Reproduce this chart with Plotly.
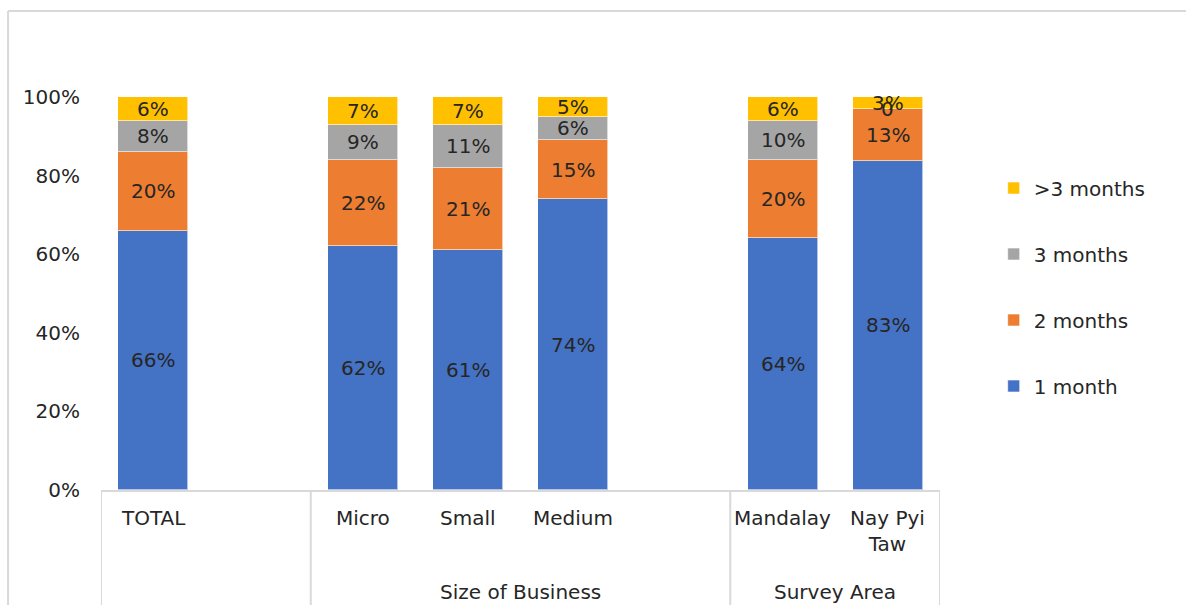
import plotly.graph_objects as go

# Category slots along the axis (blank slots separate the groups)
categories = ["TOTAL", "", "Micro", "Small", "Medium", "", "Mandalay", "Nay Pyi<br>Taw"]
groups = ["", "Size of Business", "Survey Area"]

series_names = ["1 month", "2 months", "3 months", ">3 months"]
one_month = [66, None, 62, 61, 74, None, 64, 83]
two_months = [20, None, 22, 21, 15, None, 20, 13]
three_months = [8, None, 9, 11, 6, None, 10, 0]
over_three = [6, None, 7, 7, 5, None, 6, 3]

colors = ["#4472C4", "#ED7D31", "#A5A5A5", "#FFC000"]
ytick_vals = [0, 20, 40, 60, 80, 100]
ytick_text = ["0%", "20%", "40%", "60%", "80%", "100%"]

FONT = "'DejaVu Sans', sans-serif"
TXT = "#262626"
LINE = "#D9D9D9"

series = [one_month, two_months, three_months, over_three]
xs = list(range(len(categories)))

fig = go.Figure()
n = len(series_names)
for k, (name, vals, col) in enumerate(zip(series_names, series, colors)):
    fig.add_trace(go.Bar(
        x=xs, y=vals, name=name, legendgroup=name, legendrank=n - k,
        marker=dict(color=col, line=dict(color="rgba(255,255,255,0.6)", width=1)),
        width=0.668, hoverinfo="skip",
    ))

# Data labels centred in each segment, placed on the normalised (100%) scale
annotations = []
for i in xs:
    vals = [s[i] for s in series]
    if vals[0] is None:
        continue
    total = sum(vals)
    base = 0.0
    for v in vals:
        share = 100.0 * v / total
        mid = base + share / 2
        base += share
        txt = "0" if v == 0 else f"{v}%"
        annotations.append(dict(
            x=i, y=mid, xref="x", yref="y", text=txt, showarrow=False,
            font=dict(family=FONT, size=20, color=TXT),
            xanchor="center", yanchor="middle",
        ))

# Category labels under the axis
for i, c in enumerate(categories):
    if not c:
        continue
    annotations.append(dict(
        x=i, y=-0.036, xref="x", yref="paper", text=c, showarrow=False,
        font=dict(family=FONT, size=20, color=TXT),
        xanchor="center", yanchor="top", align="center",
    ))
# Group labels
for gx, g in [(3.5, groups[1]), (6.5, groups[2])]:
    annotations.append(dict(
        x=gx, y=-0.223, xref="x", yref="paper", text=g, showarrow=False,
        font=dict(family=FONT, size=20, color=TXT),
        xanchor="center", yanchor="top",
    ))

shapes = []
# Group separators below the axis
for sx in [-0.5, 1.5, 5.5, 7.5]:
    shapes.append(dict(type="line", xref="x", yref="paper", x0=sx, x1=sx,
                       y0=0, y1=-0.4, line=dict(color=LINE, width=2)))
# Outer chart border (left and top edges)
shapes.append(dict(type="line", xref="paper", yref="paper", x0=-0.1108, x1=-0.1108,
                   y0=1.2188, y1=-0.4, line=dict(color=LINE, width=2)))
shapes.append(dict(type="line", xref="paper", yref="paper", x0=-0.1108, x1=1.4,
                   y0=1.2188, y1=1.2188, line=dict(color=LINE, width=2)))

fig.update_layout(
    width=1186, height=605,
    margin=dict(l=101, r=246, t=97, b=115),
    barmode="stack", barnorm="percent",
    plot_bgcolor="white", paper_bgcolor="white",
    font=dict(family=FONT, size=20, color=TXT),
    showlegend=True,
    legend=dict(
        x=1.064, y=0.818, xanchor="left", yanchor="top",
        traceorder="grouped", tracegroupgap=37,
        font=dict(family=FONT, size=20, color=TXT),
        bgcolor="rgba(0,0,0,0)",
    ),
    xaxis=dict(range=[-0.5, 7.5], showticklabels=False, showgrid=False,
               zeroline=False, showline=True, linecolor=LINE, linewidth=2,
               ticks=""),
    yaxis=dict(range=[0, 100], tickvals=ytick_vals, ticktext=ytick_text,
               showgrid=False, zeroline=False, showline=False, ticks="",
               ticklabelstandoff=20,
               tickfont=dict(family=FONT, size=20, color=TXT)),
    annotations=annotations,
    shapes=shapes,
    bargap=0,
)

fig.write_html("out.html")
